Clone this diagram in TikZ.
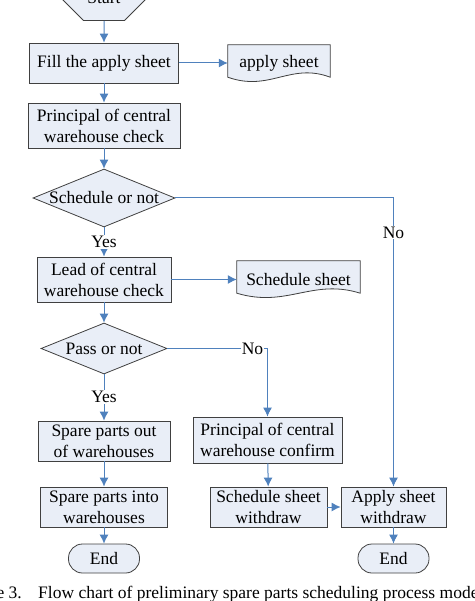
\documentclass[tikz,border=0pt]{standalone}
\usepackage{fontspec}
\setmainfont{Liberation Serif}
\usetikzlibrary{shapes.geometric,shapes.misc,arrows.meta}
\definecolor{boxfill}{RGB}{233,238,247}
\definecolor{boxline}{RGB}{64,64,64}
\definecolor{flowblue}{RGB}{79,129,189}
\tikzset{
  procbox/.style={draw=boxline,fill=boxfill,line width=.8pt,align=center,inner sep=1pt},
  decide/.style={diamond,draw=boxline,fill=boxfill,line width=.8pt,inner sep=0pt},
  termbox/.style={draw=boxline,fill=boxfill,line width=.8pt,rounded corners=14pt,minimum width=71pt,minimum height=29pt},
  docbox/.style={draw=none,inner sep=1pt},
  docline/.style={draw=boxline,fill=boxfill,line width=.8pt},
  flow/.style={draw=flowblue,line width=1pt,-{Latex[length=9pt,width=9pt]}},
  lbl/.style={fill=white,inner sep=1pt}
}
\begin{document}
\begin{tikzpicture}[x=1pt,y=-1pt,font=\fontsize{17.5}{21}\selectfont]
\useasboundingbox (0,0) rectangle (474,601);
\clip (0,0) rectangle (474,601);
\node[name=start,chamfered rectangle,chamfered rectangle xsep=21pt,chamfered rectangle ysep=17pt,draw=boxline,fill=boxfill,line width=.8pt,minimum width=86pt,minimum height=34pt,inner sep=0pt] at (104,-2) {Start};
\node[name=fill,procbox,minimum width=149pt,minimum height=40pt] at (104,63) {Fill the apply sheet};
\node[name=as,docbox,minimum width=102pt,minimum height=32pt] at (279,61) {};
\node[name=pcc,procbox,minimum width=152pt,minimum height=45pt] at (104,125.5) {Principal of central\\warehouse check};
\node[name=q1,decide,minimum width=142pt,minimum height=58pt] at (104,198) {\makebox[0pt]{Schedule or not}};
\node[name=lead,procbox,minimum width=134pt,minimum height=45pt] at (104,279.5) {Lead of central\\warehouse check};
\node[name=ss,docbox,minimum width=123pt,minimum height=32pt] at (298.5,277) {};
\node[name=q2,decide,minimum width=126pt,minimum height=51pt] at (104,348.5) {\makebox[0pt]{Pass or not}};
\node[name=out,procbox,minimum width=132pt,minimum height=40pt] at (104,441) {Spare parts out\\of warehouses};
\node[name=into,procbox,minimum width=127pt,minimum height=40pt] at (104,507) {Spare parts into\\warehouses};
\node[name=end1,termbox] at (104,558.5) {End};
\node[name=pcf,procbox,minimum width=149pt,minimum height=46pt] at (267.5,440) {Principal of central\\warehouse confirm};
\node[name=sw,procbox,minimum width=117pt,minimum height=40pt] at (268.5,507) {Schedule sheet\\withdraw};
\node[name=aw,procbox,minimum width=105pt,minimum height=40pt] at (393.5,507) {Apply sheet\\withdraw};
\node[name=end2,termbox] at (393.5,558.5) {End};

\draw[docline] (as.south west) .. controls +(42,15) and +(-40,-15) .. (as.south east) -- (as.north east) -- (as.north west) -- cycle;
\node at ([yshift=-2pt]as.center) {apply sheet};
\draw[docline] (ss.south west) .. controls +(50,15) and +(-48,-15) .. (ss.south east) -- (ss.north east) -- (ss.north west) -- cycle;
\node at ([yshift=-3pt]ss.center) {Schedule sheet};

\draw[flow] (start) to (fill);
\draw[flow] (fill.east) to (fill.east -| as.west);
\draw[flow] (fill) to (pcc);
\draw[flow] (pcc) to (q1);
\draw[flow] (q1.south) -- node[lbl] {Yes} (lead.north);
\draw[flow] (q1.east) -| node[lbl,pos=.56] {No} (aw.north);
\draw[flow] (lead.east) to (lead.east -| ss.west);
\draw[flow] (lead) to (q2);
\draw[flow] (q2.south) -- node[lbl,pos=.49] {Yes} (out.north);
\draw[flow] (q2.east) -| node[lbl,pos=.425] {No} (pcf.north);
\draw[flow] (out) to (into);
\draw[flow] (into) to (end1);
\draw[flow] (pcf) to (sw);
\draw[flow] (sw) to (aw);
\draw[flow] (aw) to (end2);

\node[name=fig,anchor=base east,inner sep=0pt] at (22,598) {Figure 3.};
\node[name=cap,anchor=base west,inner sep=0pt] at (38,598) {Flow chart of preliminary spare parts scheduling process model};
\end{tikzpicture}
\end{document}
